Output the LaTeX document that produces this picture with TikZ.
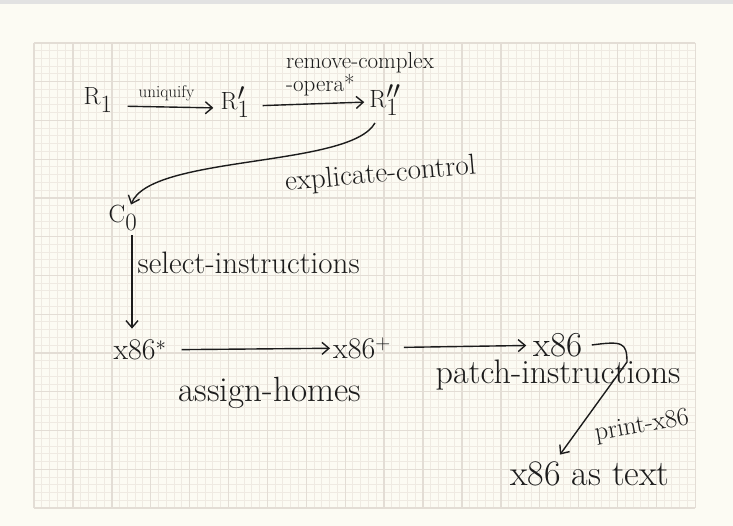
\documentclass[tikz,border=0pt]{standalone}
\usetikzlibrary{arrows.meta,positioning}
\definecolor{paper}{HTML}{FCFBF3}
\definecolor{minorln}{HTML}{EFEAE2}
\definecolor{majorln}{HTML}{E3DDD5}
\definecolor{topbar}{HTML}{E2E2E2}
\definecolor{ink}{HTML}{1C1C1C}
\tikzset{
  hand/.style={font=\fontsize{#1}{#1}\selectfont, text=ink, inner sep=1pt},
  arr/.style={draw=ink, line width=1.4pt, -{Straight Barb[length=7pt,width=12pt]}},
}
\begin{document}
\begin{tikzpicture}[x=1pt,y=-1pt]
\useasboundingbox (0,0) rectangle (733,526);
\fill[paper] (0,0) rectangle (733,526);
\fill[topbar] (0,0) rectangle (733,4);
\foreach \i in {0,...,85} \draw[minorln, line width=1pt] ({34+\i*7.78},43) -- ({34+\i*7.78},508);
\foreach \j in {0,...,60} \draw[minorln, line width=1pt] (34,{43+\j*7.75}) -- (695,{43+\j*7.75});
\foreach \i in {0,...,17} \draw[majorln, line width=1.4pt] ({34+\i*38.9},43) -- ({34+\i*38.9},508);
\foreach \j in {0,...,12} \draw[majorln, line width=1.4pt] (34,{43+\j*38.75}) -- (695,{43+\j*38.75});

\node[hand=34] (r1) at (98,100) {$\mathrm{R}_1$};
\node[hand=34] (r1p) at (235,102) {$\mathrm{R}_1'$};
\node[hand=34] (r1pp) at (385,100) {$\mathrm{R}_1''$};
\node[hand=36] (c0) at (123,218) {$\mathrm{C}_0$};
\node[hand=30] (xstar) at (140,350) {x86$^*$};
\node[hand=30] (xplus) at (362,348) {x86$^+$};
\node[hand=35] (xfin) at (558,345) {x86};
\node[hand=34, below=1pt of xfin] (lpatch) {patch-instructions};
\node[hand=36] (xtext) at (590,474) {x86 as text};
\coordinate (bend) at (627,362);

\draw[arr, shorten <=14pt, shorten >=6pt] ([yshift=-6pt]r1.east) -- node[hand=17, above=4pt] {uniquify} ([yshift=-6pt]r1p.west);
\draw[arr, shorten <=12pt, shorten >=4pt] ([yshift=-4pt]r1p.east) -- node[hand=23, pos=0.05, anchor=south west, align=left, xshift=28pt, yshift=8pt] {remove-complex\\-opera*} ([yshift=-2pt]r1pp.west);
\draw[arr] ([xshift=-10pt,yshift=-6pt]r1pp.south) .. controls +(-25,45) and +(20,-50) .. ([xshift=8pt]c0.north)
  node[hand=29, pos=0.28, anchor=north west, rotate=5, xshift=-40pt, yshift=-16pt] {explicate-control};
\draw[arr] ([xshift=9pt,yshift=-4pt]c0.south) -- node[hand=31, pos=0.25, right, yshift=-4pt, xshift=4pt] {select-instructions} ([xshift=-8pt,yshift=10pt]xstar.north);
\draw[arr, shorten <=14pt, shorten >=2pt] (xstar) -- node[hand=35, below=26pt, xshift=20pt] {assign-homes} (xplus);
\draw[arr, shorten <=12pt, shorten >=6pt] (xplus) -- (xfin);
\draw[arr] ([xshift=8pt]xfin.east) .. controls +(30,-4) and +(0,-20) .. (bend) -- ([xshift=-30pt,yshift=6pt]xtext.north)
  node[hand=26, pos=0.68, anchor=west, xshift=12pt, yshift=-10pt, rotate=10] {print-x86};
\end{tikzpicture}
\end{document}
